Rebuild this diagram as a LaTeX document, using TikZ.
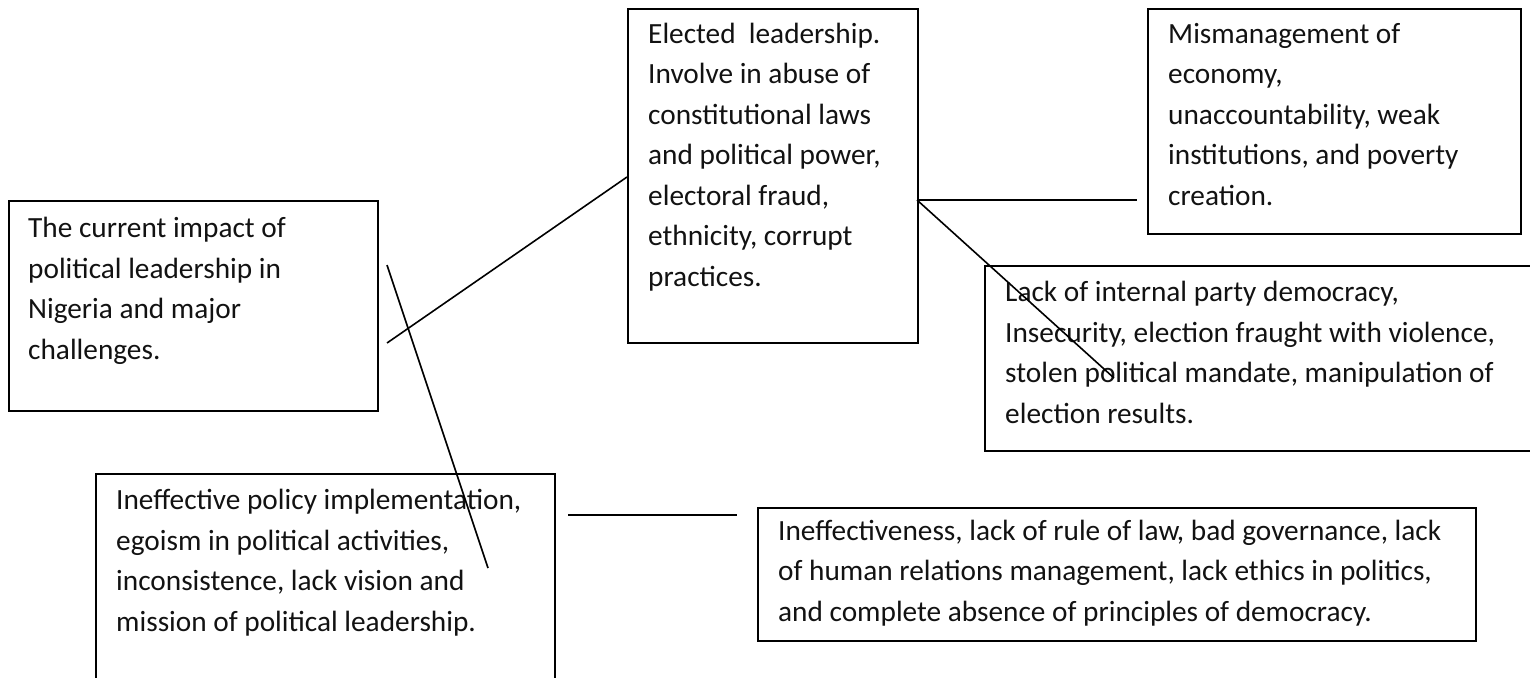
\documentclass[tikz,border=0pt]{standalone}
\usepackage{fontspec}
\setmainfont{Carlito}
\begin{document}
\begin{tikzpicture}[x=1pt,y=-1pt,
  box/.style={draw=black, line width=2pt, inner sep=0pt, anchor=north west},
  wire/.style={draw=black, line width=1.6pt},
  % texts are placed by the baseline of their last line
  txt/.style={inner sep=0pt, anchor=base west, align=left,
    font=\fontsize{29.3}{40.5}\selectfont, text=black!93}]
  % page frame
  \useasboundingbox (0,0) rectangle (1530,677);

  % frames of the six boxes
  \node[box, minimum width=369pt, minimum height=210pt] (lead)   at (8,200)   {};
  \node[box, minimum width=290pt, minimum height=334pt] (elect)  at (627,8)   {};
  \node[box, minimum width=373pt, minimum height=225pt] (econ)   at (1147,8)  {};
  \node[box, minimum width=560pt, minimum height=185pt] (party)  at (984,265) {};
  \node[box, minimum width=459pt, minimum height=230pt] (policy) at (95,473)  {};
  \node[box, minimum width=718pt, minimum height=133pt] (govern) at (757,507) {};

  % texts
  \node[txt] (leadtxt) at (28,359) {The current impact of\\political leadership in\\Nigeria and major\\challenges.};
  \node[txt] (electtxt) at (648,286) {Elected\ \ leadership.\\Involve in abuse of\\constitutional laws\\and political power,\\electoral fraud,\\ethnicity, corrupt\\practices.};
  \node[txt] (econtxt) at (1168,205) {Mismanagement of\\economy,\\unaccountability, weak\\institutions, and poverty\\creation.};
  \node[txt] (partytxt) at (1005,423) {Lack of internal party democracy,\\Insecurity, election fraught with violence,\\stolen political mandate, manipulation of\\election results.};
  \node[txt] (policytxt) at (116,631) {Ineffective policy implementation,\\egoism in political activities,\\inconsistence, lack vision and\\mission of political leadership.};
  \node[txt] (governtxt) at (778,621) {Ineffectiveness, lack of rule of law, bad governance, lack\\of human relations management, lack ethics in politics,\\and complete absence of principles of democracy.};

  % free ends of the connectors
  \coordinate (la) at (387,343);
  \coordinate (lb) at (387,265);
  \coordinate (ea) at (627,177);
  \coordinate (pa) at (488,568);
  \coordinate (er) at (917,200);
  \coordinate (ee) at (1137,200);
  \coordinate (ep) at (1114,378);
  \coordinate (ga) at (568,515);
  \coordinate (gb) at (737,515);

  % connectors
  \draw[wire] (la) -- (ea);
  \draw[wire] (lb) -- (pa);
  \draw[wire] (er) -- (ee);
  \draw[wire] (er) -- (ep);
  \draw[wire] (ga) -- (gb);
\end{tikzpicture}
\end{document}
